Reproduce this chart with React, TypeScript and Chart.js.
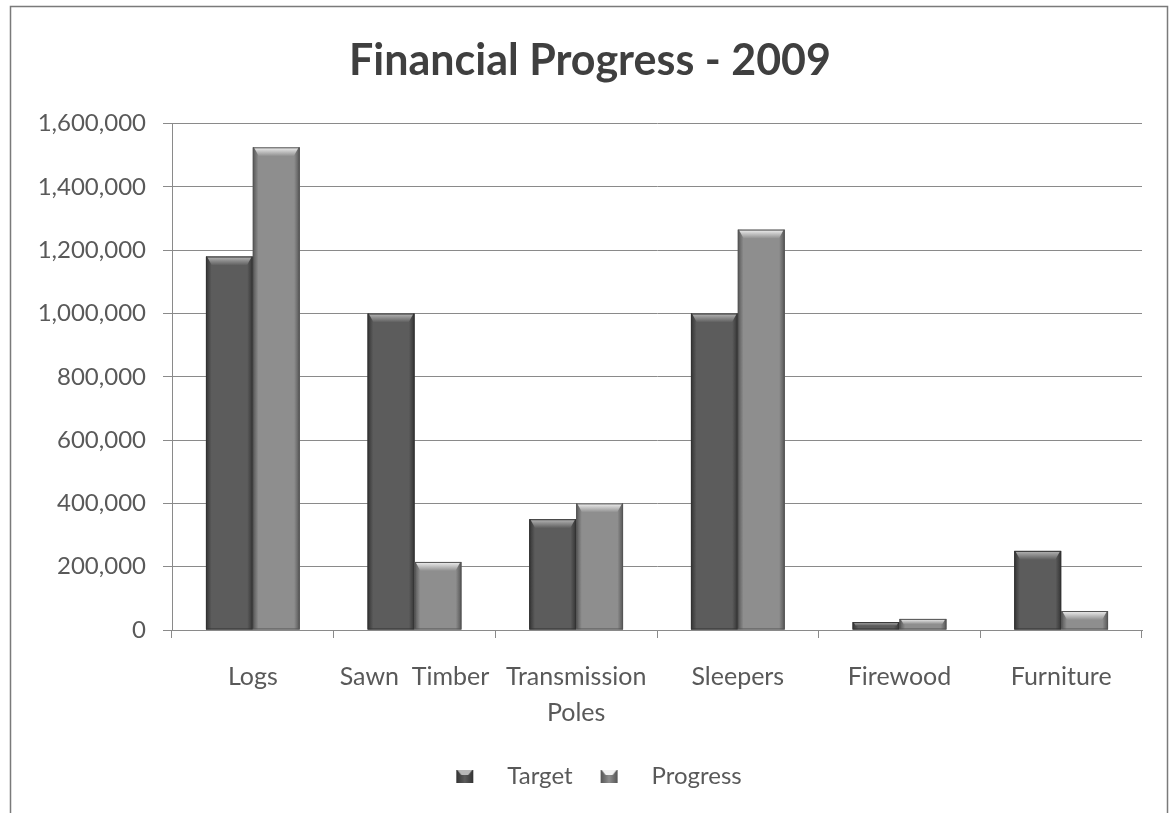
import React, { useEffect, useRef } from "react";
import { Chart, registerables } from "chart.js";

Chart.register(...registerables);

const chartTitle = "Financial Progress - 2009";
const categories: (string | string[])[] = ["Logs", "Sawn  Timber", ["Transmission", "Poles"], "Sleepers", "Firewood", "Furniture"];
const seriesNames = ["Target", "Progress"];
const targetValues = [1180000, 1000000, 350000, 1000000, 25000, 250000];
const progressValues = [1525000, 215000, 400000, 1265000, 35000, 60000];
const yMin = 0;
const yMax = 1600000;
const yStep = 200000;

const seriesColors = ["#5c5c5c", "#8e8e8e"];
const seriesEdge = ["#333333", "#555555"];
const seriesHighlight = ["#b8b8b8", "#f2f2f2"];

function makeLegendIcon(idx: number): HTMLCanvasElement {
  const c = document.createElement("canvas");
  c.width = 57;
  c.height = 14;
  const ctx = c.getContext("2d")!;
  const x0 = 18;
  const g = ctx.createLinearGradient(x0, 0, x0 + 17, 0);
  g.addColorStop(0, seriesEdge[idx]);
  g.addColorStop(0.5, seriesColors[idx]);
  g.addColorStop(1, seriesEdge[idx]);
  ctx.fillStyle = g;
  ctx.fillRect(x0, 1, 17, 13);
  ctx.fillStyle = seriesHighlight[idx];
  ctx.beginPath();
  ctx.moveTo(x0 + 1, 1);
  ctx.lineTo(x0 + 16, 1);
  ctx.lineTo(x0 + 12, 6);
  ctx.lineTo(x0 + 5, 6);
  ctx.closePath();
  ctx.fill();
  return c;
}

const frame = {
  id: "frame",
  beforeDraw(chart: any) {
    const ctx = chart.ctx;
    ctx.save();
    ctx.fillStyle = "#ffffff";
    ctx.fillRect(0, 0, chart.width, chart.height);
    ctx.strokeStyle = "#7a7a7a";
    ctx.lineWidth = 1.5;
    ctx.strokeRect(10.5, 6.5, 1157, 900);
    ctx.restore();
  },
};

const bevel = {
  id: "bevel",
  afterDatasetsDraw(chart: any) {
    const ctx = chart.ctx;
    chart.data.datasets.forEach((ds: any, di: number) => {
      const meta = chart.getDatasetMeta(di);
      meta.data.forEach((el: any) => {
        const { x, y, base, width } = el.getProps(["x", "y", "base", "width"], true);
        const left = x - width / 2;
        const right = x + width / 2;
        const h = base - y;
        ctx.save();
        const g = ctx.createLinearGradient(left, 0, right, 0);
        g.addColorStop(0, seriesEdge[di]);
        g.addColorStop(0.12, seriesColors[di]);
        g.addColorStop(0.88, seriesColors[di]);
        g.addColorStop(1, seriesEdge[di]);
        ctx.fillStyle = g;
        ctx.fillRect(left, y, width, h);
        const bh = Math.min(9, h / 2);
        const inset = Math.min(6, bh * 0.8);
        const hg = ctx.createLinearGradient(0, y, 0, y + bh);
        hg.addColorStop(0, seriesHighlight[di]);
        hg.addColorStop(1, seriesColors[di]);
        ctx.fillStyle = hg;
        ctx.beginPath();
        ctx.moveTo(left + 1, y);
        ctx.lineTo(right - 1, y);
        ctx.lineTo(right - inset, y + bh);
        ctx.lineTo(left + inset, y + bh);
        ctx.closePath();
        ctx.fill();
        ctx.strokeStyle = seriesEdge[di];
        ctx.lineWidth = 1;
        ctx.strokeRect(left + 0.5, y + 0.5, width - 1, h - 1);
        ctx.restore();
      });
    });
  },
};

export default function App() {
  const ref = useRef<HTMLCanvasElement | null>(null);
  useEffect(() => {
    if (!ref.current) return;
    const icons = [makeLegendIcon(0), makeLegendIcon(1)];
    const chart = new Chart(ref.current, {
      type: "bar",
      data: {
        labels: categories as any,
        datasets: [
          { label: seriesNames[0], data: targetValues, backgroundColor: seriesColors[0], borderWidth: 0 },
          { label: seriesNames[1], data: progressValues, backgroundColor: seriesColors[1], borderWidth: 0 },
        ],
      },
      options: {
        animation: false,
        responsive: true,
        maintainAspectRatio: false,
        layout: { padding: { left: 38, right: 29, top: 0, bottom: 15 } },
        datasets: { bar: { categoryPercentage: 0.58, barPercentage: 1 } },
        plugins: {
          title: {
            display: true,
            text: chartTitle,
            color: "#3f3f3f",
            font: { family: "Lato", size: 43, weight: "bold" },
            padding: { top: 35, bottom: 37 },
          },
          legend: {
            position: "bottom",
            labels: {
              usePointStyle: true,
              pointStyleWidth: 57,
              padding: 10,
              color: "#595959",
              font: { family: "Lato", size: 24 },
              generateLabels: (c: any) => {
                const items = Chart.defaults.plugins.legend.labels.generateLabels(c);
                return items.map((it: any, i: number) => ({ ...it, pointStyle: icons[i] }));
              },
            },
          },
          tooltip: { enabled: false },
        },
        scales: {
          x: {
            afterFit: (s: any) => {
              s.height = 124;
            },
            grid: { display: true, drawOnChartArea: false, offset: true, tickLength: 8, color: "#8a8a8a" },
            border: { color: "#8a8a8a", width: 1 },
            ticks: { color: "#595959", font: { family: "Lato", size: 25, lineHeight: 1.45 }, padding: 21, maxRotation: 0 },
          },
          y: {
            min: yMin,
            max: yMax,
            afterFit: (s: any) => {
              s.width = 134;
            },
            grid: { color: "#8a8a8a", tickLength: 9 },
            border: { color: "#8a8a8a", width: 1 },
            ticks: {
              stepSize: yStep,
              padding: 17,
              color: "#595959",
              font: { family: "Lato", size: 24 },
              callback: (v: any) => Number(v).toLocaleString("en-US"),
            },
          },
        },
      },
      plugins: [frame, bevel],
    });
    return () => chart.destroy();
  }, []);
  return (
    <div style={{ position: "absolute", left: 0, top: 0, width: 1171, height: 813 }}>
      <canvas ref={ref} />
    </div>
  );
}
